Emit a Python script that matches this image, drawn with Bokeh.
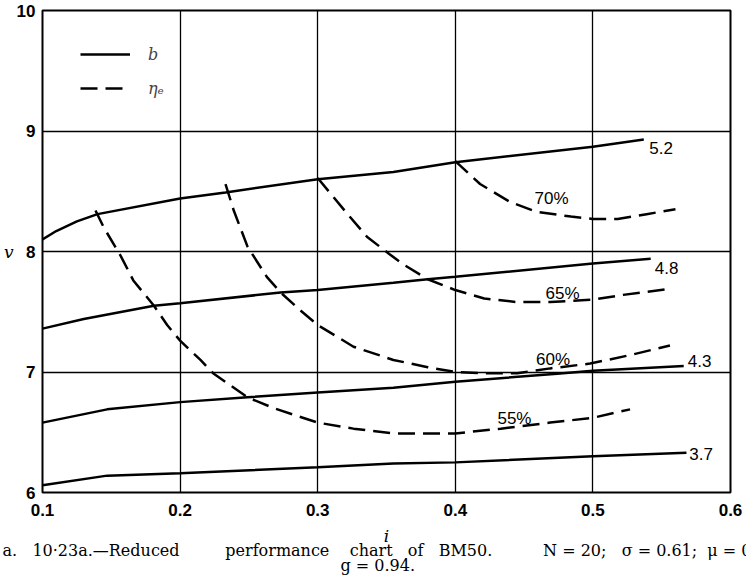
from bokeh.plotting import figure
from bokeh.models import Legend, LegendItem, FixedTicker, Title
from bokeh.core.properties import value
from bokeh.embed import file_html
from bokeh.resources import INLINE

# ---------------- data ----------------
x_ticks = [0.1, 0.2, 0.3, 0.4, 0.5, 0.6]
y_ticks = [6, 7, 8, 9, 10]

# b curves (solid)
b52_i = [0.10, 0.11, 0.125, 0.14, 0.20, 0.233, 0.30, 0.355, 0.40, 0.50, 0.537]
b52_v = [8.10, 8.17, 8.25, 8.31, 8.44, 8.49, 8.60, 8.66, 8.74, 8.87, 8.93]
b48_i = [0.10, 0.13, 0.181, 0.20, 0.273, 0.30, 0.355, 0.38, 0.40, 0.50, 0.542]
b48_v = [7.36, 7.44, 7.55, 7.57, 7.66, 7.68, 7.74, 7.77, 7.79, 7.90, 7.94]
b43_i = [0.10, 0.147, 0.20, 0.249, 0.30, 0.355, 0.40, 0.474, 0.50, 0.566]
b43_v = [6.58, 6.69, 6.75, 6.79, 6.83, 6.87, 6.92, 6.985, 7.01, 7.05]
b37_i = [0.10, 0.147, 0.20, 0.30, 0.355, 0.40, 0.50, 0.568]
b37_v = [6.06, 6.14, 6.16, 6.21, 6.24, 6.25, 6.30, 6.33]

# efficiency curves (dashed)
e70_i = [0.40, 0.418, 0.44, 0.459, 0.484, 0.50, 0.518, 0.539, 0.56]
e70_v = [8.75, 8.56, 8.41, 8.33, 8.29, 8.27, 8.27, 8.31, 8.35]
e65_i = [0.30, 0.321, 0.336, 0.352, 0.3626, 0.38, 0.40, 0.421, 0.445, 0.469, 0.50, 0.522, 0.556]
e65_v = [8.61, 8.32, 8.12, 7.98, 7.89, 7.77, 7.68, 7.61, 7.58, 7.58, 7.60, 7.64, 7.69]
e60_i = [0.233, 0.239, 0.249, 0.263, 0.273, 0.2875, 0.30, 0.326, 0.355, 0.38, 0.40, 0.42, 0.445,
         0.469, 0.498, 0.527, 0.556]
e60_v = [8.56, 8.34, 8.04, 7.79, 7.66, 7.51, 7.39, 7.21, 7.10, 7.04, 7.00, 6.99, 6.99,
         7.03, 7.07, 7.14, 7.22]
e55_i = [0.1385, 0.1445, 0.157, 0.166, 0.181, 0.1906, 0.20, 0.2148, 0.2245, 0.249, 0.268, 0.30,
         0.326, 0.355, 0.40, 0.433, 0.469, 0.50, 0.527]
e55_v = [8.34, 8.20, 7.96, 7.76, 7.55, 7.39, 7.26, 7.10, 6.985, 6.79, 6.70, 6.58,
         6.53, 6.49, 6.49, 6.53, 6.58, 6.62, 6.69]

# curve labels
b_label_text = ["5.2", "4.8", "4.3", "3.7"]
b_label_i = [0.541, 0.545, 0.569, 0.570]
b_label_v = [8.86, 7.86, 7.09, 6.32]
e_label_text = ["70%", "65%", "60%", "55%"]
e_label_i = [0.470, 0.478, 0.471, 0.443]
e_label_v = [8.44, 7.65, 7.10, 6.61]

# caption texts (justified line: pieces joined with non-breaking spaces)
caption1_pieces = ["a.", "10·23a.—Reduced", "performance", "chart", "of", "BM50.",
                   "N = 20;", "σ = 0.61;", "μ = 0."]
caption1_gaps = [3, 9, 4, 3, 3, 10, 3, 2]
caption2_text = "g = 0.94."

NB = "\u00a0"
caption1_text = caption1_pieces[0]
for gap, piece in zip(caption1_gaps, caption1_pieces[1:]):
    caption1_text += NB * gap + piece.replace(" ", NB)
caption2_text = caption2_text.replace(" ", NB)

# ---------------- main figure ----------------
p = figure(frame_width=688, frame_height=482, x_range=(0.1, 0.6), y_range=(6, 10),
           output_backend="svg", toolbar_location=None,
           min_border_left=36, min_border_right=18, min_border_top=10, min_border_bottom=88)
p.background_fill_color = "white"
p.border_fill_color = "white"
p.outline_line_color = "black"
p.outline_line_width = 2

p.xaxis.ticker = FixedTicker(ticks=x_ticks)
p.yaxis.ticker = FixedTicker(ticks=y_ticks)
for ax in (p.xaxis[0], p.yaxis[0]):
    ax.axis_line_color = None
    ax.major_tick_line_color = None
    ax.minor_tick_line_color = None
    ax.major_tick_out = 0
    ax.major_tick_in = 0
    ax.minor_tick_out = 0
    ax.minor_tick_in = 0
    ax.major_label_text_font = "Liberation Sans"
    ax.major_label_text_font_style = "bold"
    ax.major_label_text_font_size = "17px"
    ax.major_label_text_color = "black"
p.xaxis.major_label_standoff = 11
p.yaxis.major_label_standoff = 7

xax = p.xaxis[0]
xax.axis_label = "i"
xax.axis_label_text_font = "DejaVu Serif"
xax.axis_label_text_font_style = "italic"
xax.axis_label_text_font_size = "17px"
xax.axis_label_standoff = 7
xax.axis_label_text_color = "black"

yax = p.yaxis[0]
try:
    yax.axis_label_orientation = "horizontal"
    yax.axis_label = "v"
    yax.axis_label_text_font = "DejaVu Serif"
    yax.axis_label_text_font_style = "italic"
    yax.axis_label_text_font_size = "17px"
    yax.axis_label_standoff = 0
    yax.axis_label_text_color = "black"
except Exception:
    yax.axis_label = None
    yax.major_label_overrides = {8: "v 8"}

p.xgrid.ticker = FixedTicker(ticks=x_ticks)
p.ygrid.ticker = FixedTicker(ticks=y_ticks)
p.grid.grid_line_color = "black"
p.grid.grid_line_width = 1.3
p.grid.grid_line_alpha = 1.0

LW = 2.5
DASH = "17 8"
solid = []
for xs, ys in [(b52_i, b52_v), (b48_i, b48_v), (b43_i, b43_v), (b37_i, b37_v)]:
    solid.append(p.line(xs, ys, line_color="black", line_width=LW))
dashed = []
for xs, ys in [(e70_i, e70_v), (e65_i, e65_v), (e60_i, e60_v), (e55_i, e55_v)]:
    dashed.append(p.line(xs, ys, line_color="black", line_width=LW, line_dash=DASH))

p.text(x=b_label_i, y=b_label_v, text=b_label_text, text_font=value("Liberation Sans"),
       text_font_size="17px", text_align="left", text_baseline="middle", text_color="black")
p.text(x=e_label_i, y=e_label_v, text=e_label_text, text_font=value("Liberation Sans"),
       text_font_size="17px", text_align="center", text_baseline="middle", text_color="black")

legend = Legend(items=[LegendItem(label="b", renderers=[solid[0]]),
                       LegendItem(label="ηₑ", renderers=[dashed[0]])],
                location=(38, 389), glyph_width=50, glyph_height=30, label_height=30,
                spacing=4, label_standoff=18, padding=0, margin=0,
                border_line_color=None, background_fill_alpha=0,
                label_text_font="DejaVu Serif", label_text_font_style="italic",
                label_text_font_size="16px")
p.add_layout(legend)


# figure caption below the x axis
def make_title(text, offset, standoff):
    kw = dict(text=text, align="left", offset=offset,
              text_font="DejaVu Serif", text_font_style="normal", text_font_size="16px",
              text_color="black")
    try:
        return Title(standoff=standoff, **kw)
    except Exception:
        return Title(standoff=0, **kw)


t1 = make_title(caption1_text, -40, -19)
t2 = make_title(caption2_text, 298, 7)
p.add_layout(t1, "below")
p.add_layout(t2, "below")

open("out.html", "w").write(file_html(p, INLINE))
